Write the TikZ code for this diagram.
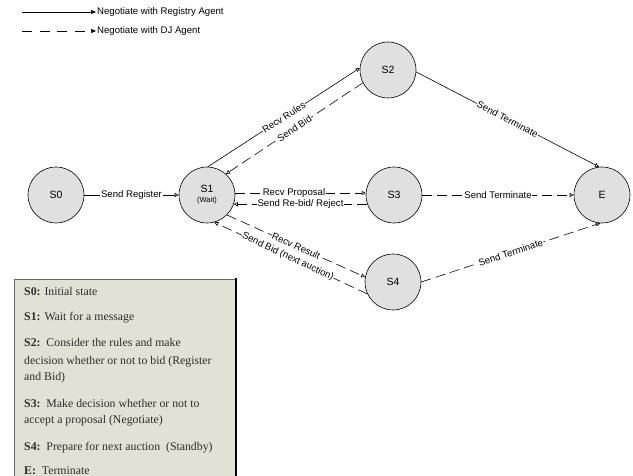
\documentclass[tikz,border=0pt]{standalone}
\usepackage{fontspec}
\setmainfont{Liberation Sans}
\newfontfamily\boxfont{Liberation Serif}
\usetikzlibrary{arrows.meta}
\definecolor{nodefill}{RGB}{224,224,224}
\definecolor{boxfill}{RGB}{225,226,213}
\definecolor{boxtext}{RGB}{45,45,45}
\begin{document}
\begin{tikzpicture}[x=1pt,y=-1pt,
 state/.style={circle,draw=black,line width=0.6pt,fill=nodefill,minimum size=56pt,inner sep=0pt,align=center,font=\fontsize{10.5}{12}\selectfont},
 reg/.style={line width=0.6pt,-{Triangle[open,length=4pt,width=4pt]}},
 dj/.style={reg,dash pattern=on 10pt off 5pt},
 legreg/.style={line width=0.6pt,-{Triangle[length=5pt,width=4pt]}},
 legdj/.style={legreg,dash pattern=on 10pt off 7.5pt},
 lab/.style={fill=white,inner sep=0.6pt,font=\fontsize{9.6}{11}\selectfont},
 legtext/.style={anchor=west,inner sep=0pt,font=\fontsize{9.6}{11}\selectfont},
 bt/.style={anchor=base west,inner sep=0pt,font=\boxfont\fontsize{11.8}{14}\selectfont,text=boxtext}]
\useasboundingbox (0,0) rectangle (633,476);
% legend
\coordinate (l1a) at (22,12);
\coordinate (l1b) at (96,12);
\coordinate (l2a) at (22,31);
\coordinate (l2b) at (96,31);
\draw[legreg] (l1a) -- (l1b);
\draw[legdj] (l2a) -- (l2b);
\node[legtext] (lt1) at (97,12) {Negotiate with Registry Agent};
\node[legtext] (lt2) at (97,31) {Negotiate with DJ Agent};
% states
\node[state] (s0) at (56,195) {S0};
\node[state] (s1) at (207,195) {S1\\[-2pt]{\fontsize{7.5}{9}\selectfont (Wait)}};
\node[state] (s2) at (388,70) {S2};
\node[state] (s3) at (394,195) {S3};
\node[state] (s4) at (393,282) {S4};
\node[state] (e) at (602,195) {E};
% transitions
\draw[reg] (s0.0) -- node[lab]{Send Register} (s1.180);
\draw[reg] (s1.88) -- node[lab,sloped]{Recv Rules} (s2.176);
\draw[dj] (s2.207) -- node[lab,sloped]{Send Bid} (s1.48);
\draw[dj] (s1.4) -- node[lab,pos=0.45]{Recv Proposal} (s3.176);
\draw[dj] (s3.-161) -- node[lab]{Send Re-bid/ Reject} (s1.-19);
\draw[dj] (s1.-45) -- node[lab,sloped]{Recv Result} (s4.170);
\draw[dj] (s4.-155) -- node[lab,sloped,pos=0.52]{Send Bid (next auction)} (s1.-75);
\draw[reg] (s2.-4) -- node[lab,sloped]{Send Terminate} (e.96);
\draw[dj] (s3.0) -- node[lab]{Send Terminate} (e.180);
\draw[dj] (s4.0) -- node[lab,sloped]{Send Terminate} (e.-94);
% description box
\fill[boxfill] (14,279) rectangle (236,480);
\draw[black!60,line width=0.6pt] (14,480) -- (14,279) -- (236,279);
\draw[black,line width=1.6pt] (236,278.5) -- (236,480);
\node[bt] (t0) at (24,296) {\textbf{S0:} Initial state};
\node[bt] (t1) at (24,321) {\textbf{S1:} Wait for a message};
\node[bt] (t2) at (24,347) {\textbf{S2:}\ \ Consider the rules and make};
\node[bt] (t3) at (24,364) {decision whether or not to bid (Register};
\node[bt] (t4) at (24,381) {and Bid)};
\node[bt] (t5) at (24,407) {\textbf{S3:}\ \ Make decision whether or not to};
\node[bt] (t6) at (24,424) {accept a proposal (Negotiate)};
\node[bt] (t7) at (24,450) {\textbf{S4:}\ \ Prepare for next auction\ \ (Standby)};
\node[bt] (t8) at (24,474) {\textbf{E:}\ \ Terminate};
\end{tikzpicture}
\end{document}
